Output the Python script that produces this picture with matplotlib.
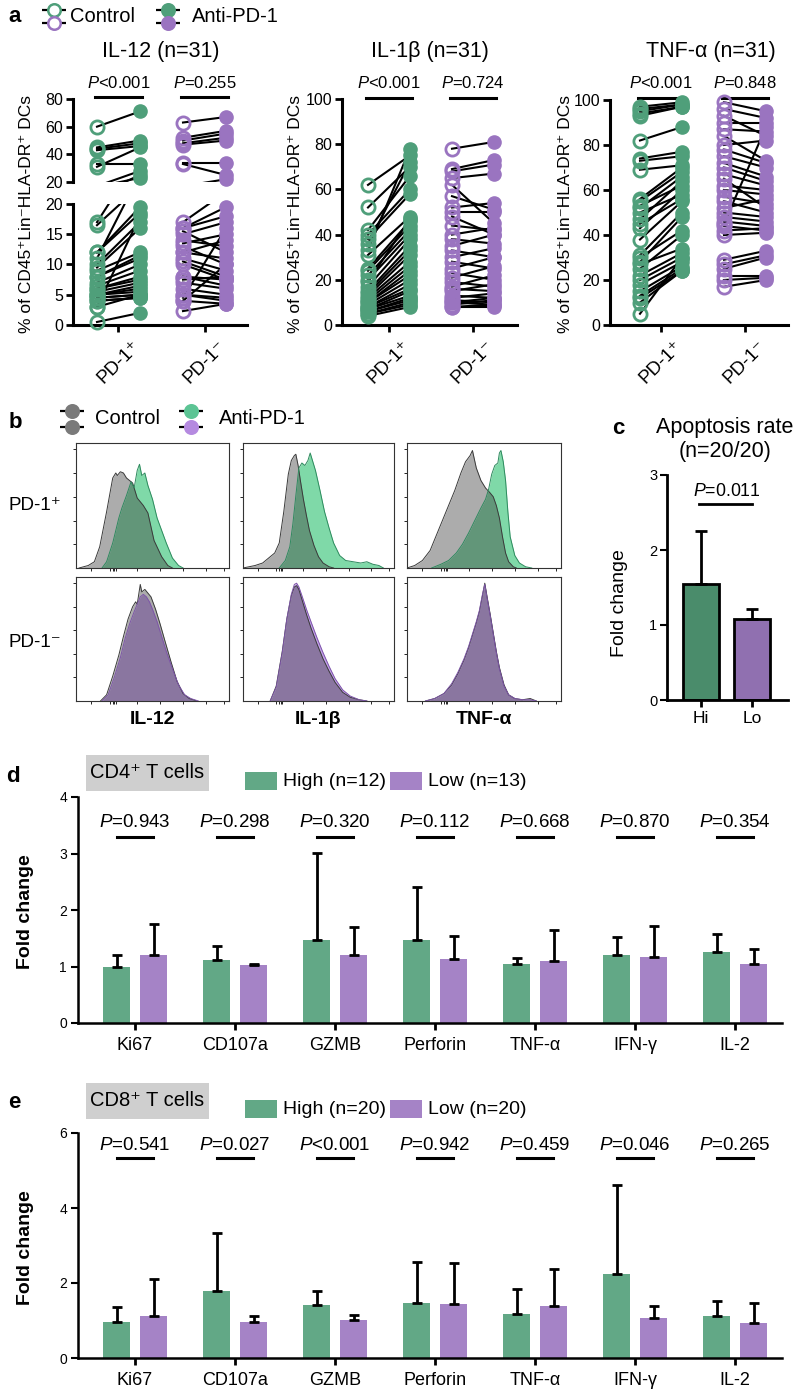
import numpy as np
import matplotlib
matplotlib.use('Agg')
import matplotlib.pyplot as plt
from matplotlib.patches import Rectangle
from matplotlib.transforms import offset_copy

plt.rcParams['font.family'] = ['Liberation Sans', 'DejaVu Sans']
plt.rcParams['mathtext.fontset'] = 'custom'
plt.rcParams['mathtext.rm'] = 'Liberation Sans'
plt.rcParams['mathtext.it'] = 'Liberation Sans:italic'
plt.rcParams['mathtext.bf'] = 'Liberation Sans:bold'

# ---------------- data ----------------
# panel a: paired values (% of CD45+Lin-HLA-DR+ DCs), control -> anti-PD-1
il12_pos_ctrl = [60, 45, 44, 43, 33, 31, 17, 16.5, 12, 12, 11, 10, 9.5, 9, 8, 8, 7, 6.5, 6, 6,
                 5.5, 5, 5, 5, 4.5, 4.5, 4, 4, 3, 3, 0.5]
il12_pos_anti = [71, 50, 48, 46, 33, 45, 28, 23, 19.5, 18.5, 25, 17, 16, 12, 11.5, 11, 10, 9, 8, 7.5,
                 7, 6.5, 6, 5.5, 5, 5, 4.5, 4.5, 18, 5, 2]
il12_neg_ctrl = [63, 52, 50, 48, 47, 34, 33, 17, 16, 16, 15.5, 15, 14, 13.5, 13, 12, 12, 11, 10.5, 10,
                 8, 8, 7.5, 7, 6, 5, 5, 4.5, 4, 4, 2.3]
il12_neg_anti = [67, 57, 55, 52, 50, 34, 25, 22, 19.5, 18, 12, 17, 13, 15, 10, 11, 14, 9, 8, 7.5,
                 7.5, 6.5, 8, 6, 5, 4.5, 4, 16, 10, 3.5, 3.5]
il1b_pos_ctrl = [62, 52, 42, 40, 38, 36, 33, 31, 25, 24, 22, 20, 19, 17, 15, 14, 13, 12, 11, 10,
                 10, 9, 8, 8, 7, 7, 6, 6, 5, 5, 4]
il1b_pos_anti = [75, 70, 66, 60, 58, 72, 78, 48, 46, 44, 42, 40, 47, 38, 35, 33, 31, 28, 26, 24,
                 22, 20, 18, 16, 15, 13, 12, 11, 10, 9, 8]
il1b_neg_ctrl = [78, 69, 68, 65, 62, 57, 52, 50, 48, 44, 40, 38, 35, 33, 30, 28, 25, 23, 21, 19,
                 17, 16, 15, 13, 12, 11, 10, 10, 9, 8, 8]
il1b_neg_anti = [81, 73, 71, 67, 45, 51, 54, 50, 40, 42, 43, 36, 40, 30, 34, 25, 30, 20, 26, 17,
                 22, 15, 18, 12, 14, 10, 12, 9, 11, 8, 9]
tnf_pos_ctrl = [97, 96, 95, 94, 93, 82, 74, 73, 69, 56, 55, 53, 52, 50, 47, 45, 43, 38, 31, 30,
                28, 27, 25, 22, 20, 18, 15, 13, 12, 10, 5]
tnf_pos_anti = [99, 98, 98, 97, 97, 88, 77, 75, 71, 70, 68, 62, 66, 58, 64, 56, 60, 55, 50, 42,
                48, 34, 40, 32, 30, 28, 26, 25, 24, 24, 30]
tnf_neg_ctrl = [99, 96, 93, 90, 87, 84, 80, 78, 75, 72, 70, 67, 65, 62, 60, 57, 55, 52, 50, 48,
                46, 44, 42, 40, 29, 27, 25, 22, 20, 17, 45]
tnf_neg_anti = [95, 92, 84, 90, 86, 73, 82, 72, 70, 66, 64, 62, 52, 60, 58, 54, 50, 56, 48, 46,
                44, 42, 43, 41, 33, 31, 30, 22, 21, 20, 88]
a_titles = ['IL-12 (n=31)', 'IL-1β (n=31)', 'TNF-α (n=31)']
a_pvals = [['<0.001', '=0.255'], ['<0.001', '=0.724'], ['<0.001', '=0.848']]
a_groups = ['PD-1⁺', 'PD-1⁻']

# panel b: flow histograms (normalised intensity, normalised count)
il12_pos_c_x = [0.02, 0.08, 0.12, 0.155, 0.2, 0.24, 0.26, 0.27, 0.29, 0.31, 0.33, 0.35, 0.37, 0.40,
                0.44, 0.47, 0.51, 0.56, 0.60, 0.63]
il12_pos_c_y = [0.0, 0.02, 0.05, 0.17, 0.45, 0.72, 0.76, 0.74, 0.77, 0.76, 0.72, 0.70, 0.68, 0.56,
                0.50, 0.44, 0.22, 0.09, 0.02, 0.0]
il12_pos_t_x = [0.17, 0.20, 0.24, 0.28, 0.30, 0.33, 0.36, 0.38, 0.40, 0.415, 0.43, 0.45, 0.47, 0.50,
                0.53, 0.56, 0.59, 0.63, 0.67, 0.70]
il12_pos_t_y = [0.0, 0.05, 0.20, 0.40, 0.48, 0.58, 0.69, 0.64, 0.78, 0.83, 0.74, 0.76, 0.66, 0.55,
                0.40, 0.30, 0.20, 0.08, 0.02, 0.0]
il1b_pos_c_x = [0.0, 0.08, 0.13, 0.17, 0.21, 0.24, 0.27, 0.30, 0.32, 0.34, 0.35, 0.365, 0.38, 0.40,
                0.42, 0.44, 0.47, 0.50, 0.53, 0.57, 0.60]
il1b_pos_c_y = [0.0, 0.02, 0.04, 0.08, 0.12, 0.20, 0.45, 0.75, 0.86, 0.90, 0.91, 0.82, 0.70, 0.55,
                0.42, 0.30, 0.18, 0.09, 0.04, 0.01, 0.0]
il1b_pos_t_x = [0.24, 0.28, 0.31, 0.33, 0.35, 0.37, 0.39, 0.41, 0.43, 0.445, 0.46, 0.48, 0.51, 0.54,
                0.57, 0.60, 0.64, 0.68, 0.73, 0.78, 0.82, 0.86, 0.90, 0.93]
il1b_pos_t_y = [0.0, 0.06, 0.17, 0.35, 0.58, 0.80, 0.84, 0.82, 0.86, 0.92, 0.86, 0.78, 0.62, 0.45,
                0.32, 0.20, 0.10, 0.06, 0.05, 0.04, 0.05, 0.03, 0.02, 0.0]
tnf_pos_c_x = [0.0, 0.05, 0.10, 0.15, 0.19, 0.23, 0.27, 0.31, 0.35, 0.38, 0.41, 0.425, 0.45, 0.48,
               0.51, 0.54, 0.56, 0.58, 0.60, 0.62, 0.64, 0.66, 0.69, 0.71]
tnf_pos_c_y = [0.0, 0.02, 0.06, 0.14, 0.26, 0.38, 0.50, 0.62, 0.76, 0.85, 0.90, 0.94, 0.80, 0.70,
               0.64, 0.60, 0.57, 0.50, 0.40, 0.25, 0.12, 0.05, 0.01, 0.0]
tnf_pos_t_x = [0.16, 0.22, 0.27, 0.32, 0.36, 0.40, 0.44, 0.48, 0.51, 0.53, 0.55, 0.57, 0.59, 0.60,
               0.61, 0.625, 0.64, 0.655, 0.67, 0.70, 0.73, 0.77, 0.81]
tnf_pos_t_y = [0.0, 0.03, 0.06, 0.12, 0.19, 0.28, 0.38, 0.48, 0.55, 0.63, 0.75, 0.82, 0.84, 0.92,
               0.94, 0.85, 0.70, 0.45, 0.25, 0.10, 0.04, 0.01, 0.0]
il12_neg_c_x = [0.16, 0.20, 0.24, 0.28, 0.31, 0.34, 0.37, 0.39, 0.40, 0.42, 0.43, 0.45, 0.47, 0.49,
                0.52, 0.55, 0.58, 0.62, 0.66, 0.70, 0.74, 0.79]
il12_neg_c_y = [0.0, 0.05, 0.20, 0.37, 0.52, 0.66, 0.76, 0.80, 0.78, 0.94, 0.88, 0.90, 0.87, 0.84,
                0.74, 0.62, 0.49, 0.32, 0.16, 0.06, 0.02, 0.0]
il12_neg_t_x = [0.17, 0.21, 0.25, 0.29, 0.32, 0.35, 0.38, 0.40, 0.42, 0.44, 0.46, 0.48, 0.50, 0.53,
                0.56, 0.59, 0.63, 0.67, 0.71, 0.75, 0.80]
il12_neg_t_y = [0.0, 0.05, 0.19, 0.35, 0.50, 0.62, 0.72, 0.78, 0.84, 0.86, 0.84, 0.80, 0.74, 0.64,
                0.52, 0.40, 0.26, 0.13, 0.05, 0.02, 0.0]
il1b_neg_c_x = [0.18, 0.22, 0.26, 0.29, 0.32, 0.34, 0.355, 0.37, 0.39, 0.42, 0.45, 0.49, 0.53, 0.57,
                0.61, 0.66, 0.71, 0.77, 0.82]
il1b_neg_c_y = [0.0, 0.12, 0.40, 0.66, 0.85, 0.92, 0.93, 0.90, 0.82, 0.70, 0.59, 0.46, 0.34, 0.24,
                0.15, 0.07, 0.03, 0.01, 0.0]
il1b_neg_t_x = [0.18, 0.22, 0.26, 0.29, 0.32, 0.34, 0.355, 0.37, 0.39, 0.42, 0.45, 0.49, 0.53, 0.57,
                0.61, 0.66, 0.71, 0.77, 0.82]
il1b_neg_t_y = [0.0, 0.11, 0.39, 0.66, 0.86, 0.94, 0.95, 0.92, 0.85, 0.74, 0.64, 0.51, 0.39, 0.28,
                0.18, 0.09, 0.04, 0.01, 0.0]
tnf_neg_c_x = [0.12, 0.18, 0.24, 0.29, 0.33, 0.37, 0.40, 0.43, 0.45, 0.47, 0.49, 0.505, 0.52, 0.54,
               0.56, 0.58, 0.60, 0.63, 0.66, 0.70, 0.75, 0.80, 0.84]
tnf_neg_c_y = [0.0, 0.02, 0.06, 0.13, 0.22, 0.33, 0.43, 0.55, 0.63, 0.72, 0.85, 0.95, 0.84, 0.70,
               0.55, 0.40, 0.27, 0.13, 0.05, 0.02, 0.01, 0.02, 0.0]
tnf_neg_t_x = tnf_neg_c_x
tnf_neg_t_y = [0.0, 0.02, 0.06, 0.14, 0.23, 0.34, 0.44, 0.56, 0.64, 0.73, 0.86, 0.94, 0.83, 0.69,
               0.54, 0.39, 0.26, 0.12, 0.05, 0.02, 0.01, 0.01, 0.0]
b_cols = ['IL-12', 'IL-1β', 'TNF-α']

# panel c
c_groups = ['Hi', 'Lo']
c_mean = [1.55, 1.08]
c_sd = [0.71, 0.14]

# panels d, e
cd_markers = ['Ki67', 'CD107a', 'GZMB', 'Perforin', 'TNF-α', 'IFN-γ', 'IL-2']
d_high = [0.99, 1.11, 1.47, 1.47, 1.05, 1.20, 1.26]
d_high_sd = [0.21, 0.25, 1.54, 0.93, 0.10, 0.33, 0.31]
d_low = [1.20, 1.03, 1.20, 1.14, 1.10, 1.17, 1.04]
d_low_sd = [0.55, 0.01, 0.50, 0.40, 0.55, 0.55, 0.27]
d_p = ['=0.943', '=0.298', '=0.320', '=0.112', '=0.668', '=0.870', '=0.354']
e_high = [0.97, 1.80, 1.42, 1.46, 1.18, 2.23, 1.12]
e_high_sd = [0.40, 1.54, 0.38, 1.11, 0.66, 2.38, 0.41]
e_low = [1.12, 0.97, 1.02, 1.45, 1.39, 1.06, 0.93]
e_low_sd = [0.99, 0.15, 0.13, 1.08, 0.98, 0.34, 0.53]
e_p = ['=0.541', '=0.027', '<0.001', '=0.942', '=0.459', '=0.046', '=0.265']

GREEN_A, PURPLE_A = '#4f9f7a', '#9a74c0'
GREEN_C, PURPLE_C = '#4a8c6b', '#9070b0'
GREEN_D, PURPLE_D = '#62a886', '#a583c6'

W, H = 800, 1392
fig = plt.figure(figsize=(W / 100, H / 100), dpi=100)


def px_axes(x0, y0, x1, y1):
    ax = fig.add_axes([x0 / W, 1 - y1 / H, (x1 - x0) / W, (y1 - y0) / H])
    ax.patch.set_alpha(0)
    return ax


def ftext(x, y, s, **kw):
    fig.text(x / W, 1 - y / H, s, **kw)


# ---------------- panel a ----------------
def style_a(ax, yticks, xaxis=True):
    ax.spines['top'].set_visible(False)
    ax.spines['right'].set_visible(False)
    ax.spines['left'].set_linewidth(2.2)
    ax.spines['bottom'].set_linewidth(2.2)
    ax.set_yticks(yticks)
    ax.tick_params(axis='y', width=2, length=5, labelsize=11.5, pad=2)
    if xaxis:
        ax.set_xticks([0.5, 2.5])
        ax.set_xticklabels(a_groups, rotation=45, ha='center', fontsize=13.5)
        ax.tick_params(axis='x', width=2, length=5, pad=4)
    else:
        ax.spines['bottom'].set_visible(False)
        ax.tick_params(axis='x', bottom=False, labelbottom=False)


def draw_pairs(ax, data, lim):
    pc, pa, nc, na = data
    for x0, ctrl, anti, col in [(0, pc, pa, GREEN_A), (2, nc, na, PURPLE_A)]:
        for c, a in zip(ctrl, anti):
            ax.plot([x0, x0 + 1], [c, a], color='black', lw=1.5, zorder=2)
        cin = [v for v in ctrl if lim[0] <= v <= lim[1]]
        ain = [v for v in anti if lim[0] <= v <= lim[1]]
        ax.plot([x0] * len(cin), cin, 'o', ms=9.5, mfc='none', mec=col, mew=2.0,
                clip_on=False, zorder=3)
        ax.plot([x0 + 1] * len(ain), ain, 'o', ms=9.5, mfc=col, mec=col, mew=1.0,
                clip_on=False, zorder=4)
    ax.set_ylim(*lim)


def sig_a(ax, pvals, dy_bar=2, dy_txt=16):
    tb = offset_copy(ax.get_xaxis_transform(), fig=fig, y=dy_bar, units='dots')
    tt = offset_copy(ax.get_xaxis_transform(), fig=fig, y=dy_txt, units='dots')
    for x0, p in zip([0, 2], pvals):
        ax.plot([x0 - 0.05, x0 + 1.05], [1, 1], color='black', lw=2.2, transform=tb,
                clip_on=False)
        ax.text(x0 + 0.5, 1, '$P$' + p, transform=tt, ha='center', va='center', fontsize=12)


a_data = [(il12_pos_ctrl, il12_pos_anti, il12_neg_ctrl, il12_neg_anti),
          (il1b_pos_ctrl, il1b_pos_anti, il1b_neg_ctrl, il1b_neg_anti),
          (tnf_pos_ctrl, tnf_pos_anti, tnf_neg_ctrl, tnf_neg_anti)]

# IL-12 with broken axis
ax_t = px_axes(73, 99, 247, 182)
ax_b = px_axes(73, 204, 247, 325)
for ax in (ax_t, ax_b):
    ax.set_xlim(-0.558, 3.488)
draw_pairs(ax_t, a_data[0], (20, 80))
draw_pairs(ax_b, a_data[0], (0, 20))
style_a(ax_t, [20, 40, 60, 80], xaxis=False)
style_a(ax_b, [0, 5, 10, 15, 20])
sig_a(ax_t, a_pvals[0])

ax1 = px_axes(342, 99, 517, 325)
ax1.set_xlim(-0.619, 3.548)
draw_pairs(ax1, a_data[1], (0, 100))
style_a(ax1, [0, 20, 40, 60, 80, 100])
sig_a(ax1, a_pvals[1], 1, 16)

ax2 = px_axes(610, 100, 788, 325)
ax2.set_xlim(-0.714, 3.524)
draw_pairs(ax2, a_data[2], (0, 100))
style_a(ax2, [0, 20, 40, 60, 80, 100])
sig_a(ax2, a_pvals[2], 2, 17)

for xc, t in zip([161, 430, 711], a_titles):
    ftext(xc, 52, t, ha='center', va='center', fontsize=15.5)
for xl in [27, 295, 565]:
    ftext(xl, 214, '% of CD45⁺Lin⁻HLA-DR⁺ DCs', rotation=90, ha='center', va='center',
          fontsize=12.5)

# ---------------- panel b ----------------
b_pos = [(il12_pos_c_x, il12_pos_c_y, il12_pos_t_x, il12_pos_t_y),
         (il1b_pos_c_x, il1b_pos_c_y, il1b_pos_t_x, il1b_pos_t_y),
         (tnf_pos_c_x, tnf_pos_c_y, tnf_pos_t_x, tnf_pos_t_y)]
b_neg = [(il12_neg_c_x, il12_neg_c_y, il12_neg_t_x, il12_neg_t_y),
         (il1b_neg_c_x, il1b_neg_c_y, il1b_neg_t_x, il1b_neg_t_y),
         (tnf_neg_c_x, tnf_neg_c_y, tnf_neg_t_x, tnf_neg_t_y)]
cols_px = [(76, 229), (243, 394), (407, 561)]
rows_px = [(443, 568), (577, 701)]


def hist_panel(ax, curves, fill_col, edge_col):
    cx, cy, tx, ty = curves
    ax.fill_between(tx, ty, color=fill_col, lw=0, zorder=1)
    ax.fill_between(cx, cy, color='#3a3a3a', alpha=0.42, lw=0, zorder=2)
    ax.plot(cx, cy, color='#3a3a3a', lw=0.7, zorder=3)
    ax.plot(tx, ty, color=edge_col, lw=0.7, zorder=3)
    ax.set_xlim(0, 1)
    ax.set_ylim(0, 1.0)
    for s in ax.spines.values():
        s.set_linewidth(0.8)
        s.set_color('#333333')
    ax.set_yticks([0.19, 0.38, 0.57, 0.76, 0.95])
    ax.set_xticks([0.1, 0.22, 0.24, 0.25, 0.26, 0.4, 0.55, 0.7, 0.85, 0.97])
    ax.tick_params(length=2.5, width=0.6, labelleft=False, labelbottom=False)


for (x0, x1), cur in zip(cols_px, b_pos):
    hist_panel(px_axes(x0, rows_px[0][0], x1, rows_px[0][1]), cur, '#7fd9a8', '#2e8a5e')
for (x0, x1), cur in zip(cols_px, b_neg):
    hist_panel(px_axes(x0, rows_px[1][0], x1, rows_px[1][1]), cur, '#c4a2ea', '#7d55a8')
for (x0, x1), lab in zip(cols_px, b_cols):
    ftext((x0 + x1) / 2, 720, lab, ha='center', va='center', fontsize=14, fontweight='bold')
ftext(35, 506, a_groups[0], ha='center', va='center', fontsize=13.5)
ftext(35, 642, a_groups[1], ha='center', va='center', fontsize=13.5)

# ---------------- panel c ----------------
axc = px_axes(667, 475, 788, 700)
xc = np.arange(len(c_groups))
axc.bar(xc, c_mean, 0.7, color=[GREEN_C, PURPLE_C], edgecolor='black', lw=2, zorder=2)
axc.errorbar(xc, c_mean, yerr=[np.zeros(len(xc)), c_sd], fmt='none', ecolor='black',
             elinewidth=2, capsize=4, capthick=2, zorder=3)
axc.set_xlim(-0.67, 1.71)
axc.set_ylim(0, 3)
axc.set_yticks([0, 1, 2, 3])
axc.set_xticks(xc)
axc.set_xticklabels(c_groups, fontsize=12.5)
axc.spines['top'].set_visible(False)
axc.spines['right'].set_visible(False)
axc.spines['left'].set_linewidth(2)
axc.spines['bottom'].set_linewidth(2)
axc.tick_params(axis='y', width=1.5, length=5, labelsize=10.5, pad=2)
axc.tick_params(axis='x', width=2, length=5, pad=3)
axc.plot([-0.04, 1.0], [2.61, 2.61], color='black', lw=2)
axc.text(0.5, 2.78, '$P$=0.011', ha='center', va='center', fontsize=12.8)
ftext(725, 428, 'Apoptosis rate', ha='center', va='center', fontsize=15.5)
ftext(725, 451, '(n=20/20)', ha='center', va='center', fontsize=15.5)
ftext(620, 603, 'Fold change', rotation=90, ha='center', va='center', fontsize=14)


# ---------------- panels d, e ----------------
def bar_panel(ax, high, high_sd, low, low_sd, pvals, ymax, step, p_line, p_txt):
    x = np.arange(len(cd_markers))
    ax.bar(x - 0.185, high, 0.27, color=GREEN_D, zorder=2)
    ax.bar(x + 0.185, low, 0.27, color=PURPLE_D, zorder=2)
    for xs, m, sd in [(x - 0.185, high, high_sd), (x + 0.185, low, low_sd)]:
        ax.errorbar(xs, m, yerr=[np.zeros(len(x)), sd], fmt='none', ecolor='black',
                    elinewidth=2, capsize=3.6, capthick=2, zorder=3)
    for xi, p in zip(x, pvals):
        ax.plot([xi - 0.18, xi + 0.18], [p_line, p_line], color='black', lw=2.2)
        ax.text(xi, p_txt, '$P$' + p, ha='center', va='center', fontsize=13.5)
    ax.set_xlim(-0.57, 6.47)
    ax.set_ylim(0, ymax)
    ax.set_yticks(np.arange(0, ymax + 0.1, step))
    ax.set_xticks(x)
    ax.set_xticklabels(cd_markers, fontsize=13)
    ax.spines['top'].set_visible(False)
    ax.spines['right'].set_visible(False)
    ax.spines['left'].set_linewidth(1.8)
    ax.spines['bottom'].set_linewidth(1.8)
    ax.tick_params(axis='y', width=1.5, length=5, labelsize=10, pad=3)
    ax.tick_params(axis='x', width=2, length=5, pad=5)


axd = px_axes(78, 797, 782, 1023)
bar_panel(axd, d_high, d_high_sd, d_low, d_low_sd, d_p, 4, 1, 3.29, 3.54)
axe = px_axes(78, 1133, 782, 1358)
bar_panel(axe, e_high, e_high_sd, e_low, e_low_sd, e_p, 6, 2, 5.33, 5.68)
ftext(26, 912, 'Fold change', rotation=90, ha='center', va='center', fontsize=14,
      fontweight='bold')
ftext(26, 1248, 'Fold change', rotation=90, ha='center', va='center', fontsize=14,
      fontweight='bold')

# ---------------- overlay: legends, labels, boxes ----------------
ov = fig.add_axes([0, 0, 1, 1])
ov.set_xlim(0, W)
ov.set_ylim(H, 0)
ov.axis('off')

for lab, (lx, ly) in zip('abcde', [(15, 16), (15, 423), (618, 428), (13, 776), (14, 1102)]):
    ov.text(lx, ly, lab, ha='center', va='center', fontsize=16, fontweight='bold')


def legend_sym(xc, y, col, filled):
    ov.plot([xc - 12, xc + 12], [y, y], color='black', lw=1.6, solid_capstyle='butt')
    ov.plot([xc], [y], 'o', ms=9, mfc=col if filled else 'white', mec=col, mew=1.8)


# panel a legend
legend_sym(53.5, 10, GREEN_A, False)
legend_sym(53.5, 23, PURPLE_A, False)
legend_sym(167.5, 10, GREEN_A, True)
legend_sym(167.5, 23, PURPLE_A, True)
ov.text(70, 17, 'Control', va='center', fontsize=14.5)
ov.text(192, 17, 'Anti-PD-1', va='center', fontsize=14.5)

# panel b legend
legend_sym(72, 411, '#7a7a7a', True)
legend_sym(72, 427, '#7a7a7a', True)
legend_sym(191, 411, '#5cc494', True)
legend_sym(191, 427, '#b58ae0', True)
ov.text(95, 419, 'Control', va='center', fontsize=14.5)
ov.text(219, 419, 'Anti-PD-1', va='center', fontsize=14.5)

# panels d, e title boxes and legends
for y0, title, nh, nl in [(755, 'CD4⁺ T cells', 12, 13), (1083, 'CD8⁺ T cells', 20, 20)]:
    ov.add_patch(Rectangle((86, y0), 123, 36, color='#cfcfcf', lw=0))
    ov.text(147.5, y0 + 18, title, ha='center', va='center', fontsize=14.5)
    ly = y0 + 26
    ov.add_patch(Rectangle((245, ly - 9), 32, 18, color=GREEN_D, lw=0))
    ov.text(283, ly, f'High (n={nh})', va='center', fontsize=14)
    ov.add_patch(Rectangle((390, ly - 9), 32, 18, color=PURPLE_D, lw=0))
    ov.text(428, ly, f'Low (n={nl})', va='center', fontsize=14)

fig.savefig('out.png', dpi=100)
